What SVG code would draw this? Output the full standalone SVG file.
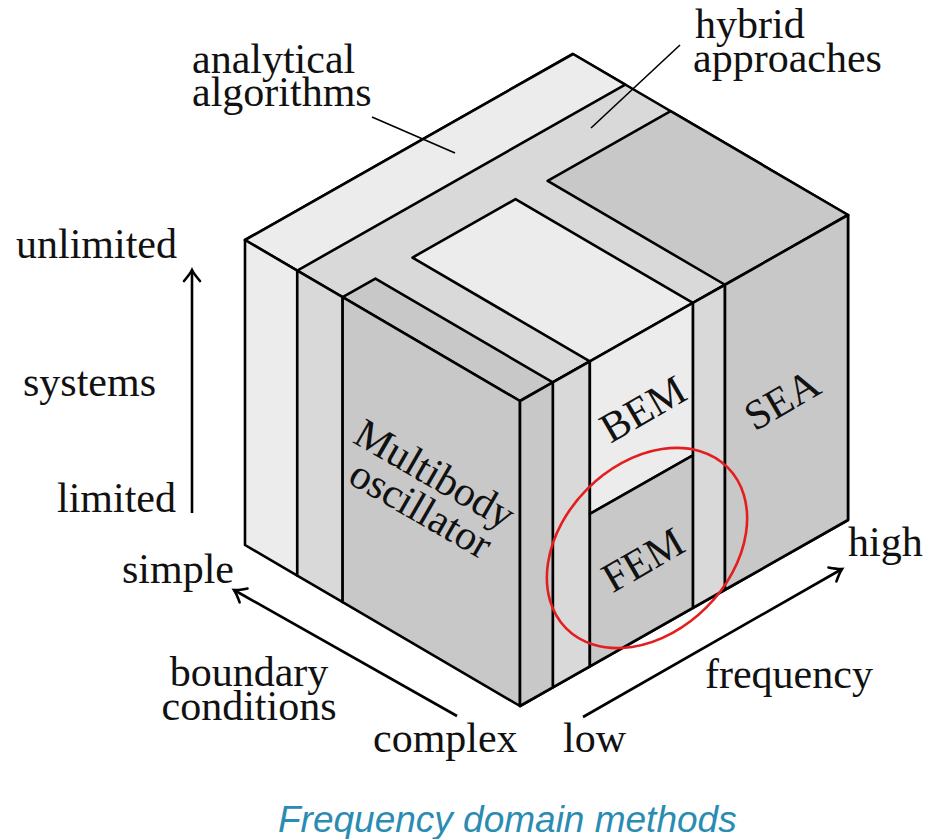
<svg xmlns="http://www.w3.org/2000/svg" width="928" height="839" viewBox="0 0 928 839">
<defs>
<style>
.e{stroke:#000;stroke-width:2.6;stroke-linejoin:round}
.l1{fill:#ececec}
.l2{fill:#d9d9d9}
.l3{fill:#c8c8c8}
.t{font-family:"Liberation Serif","Times New Roman",serif;font-size:42px;fill:#111}
.ax{stroke:#000;stroke-width:2.6;fill:none}
.ld{stroke:#000;stroke-width:1.6;fill:none}
</style>
<marker id="ah" markerUnits="userSpaceOnUse" markerWidth="30" markerHeight="30" viewBox="-15 -15 30 30" refX="0" refY="0" orient="auto">
<path d="M-11,-8 Q-4,-2 0,0 Q-4,2 -11,8" fill="none" stroke="#000" stroke-width="2.6" stroke-linecap="round"/>
</marker>
</defs>
<rect width="928" height="839" fill="#fff"/>

<g id="top-face">
<polygon class="e l2" points="245,240 573,54 848,215 520,401"/>
</g>
<g id="right-face">
<polygon class="e l2" points="520,401 848,215 848,520 520,706"/>
</g>

<g id="analytical-algorithms">
<polygon class="e l1" points="245,240 573,54 625.25,84.59 297.25,270.59"/>
<polygon class="e l1" points="245,240 297.25,270.59 297.25,575.59 245,545"/>
</g>

<g id="hybrid-approaches">
<polygon class="e l2" points="297.25,270.59 342.63,297.16 342.63,602.16 297.25,575.59"/>
<polygon class="e l2" points="552.8,382.4 589.86,361.38 589.86,666.38 552.8,687.4"/>
<polygon class="e l2" points="692.86,302.98 725,284.75 725,589.75 692.86,607.98"/>
</g>

<g id="multibody-oscillator">
<polygon class="e l3" points="342.63,297.16 375.43,278.56 552.8,382.4 520,401"/>
<polygon class="e l3" points="342.63,297.16 520,401 520,706 342.63,602.16"/>
<polygon class="e l3" points="520,401 552.8,382.4 552.8,687.4 520,706"/>
<text class="t" text-anchor="middle" transform="translate(428,486) rotate(30)">Multibody</text>
<text class="t" text-anchor="middle" transform="translate(414,521) rotate(30)">oscillator</text>
</g>

<g id="bem">
<polygon class="e l1" points="412.49,257.54 515.49,199.14 692.86,302.98 589.86,361.38"/>
<polygon class="e l1" points="589.86,361.38 692.86,302.98 692.86,455.48 589.86,513.88"/>
<text class="t" text-anchor="middle" transform="translate(650,421) rotate(-30)">BEM</text>
</g>

<g id="fem">
<polygon class="e l3" points="589.86,513.88 692.86,455.48 692.86,607.98 589.86,666.38"/>
<text class="t" text-anchor="middle" transform="translate(650,572) rotate(-30)">FEM</text>
</g>

<g id="sea">
<polygon class="e l3" points="547.63,180.9 670.63,111.16 848,215 725,284.75"/>
<polygon class="e l3" points="725,284.75 848,215 848,520 725,589.75"/>
<text class="t" text-anchor="middle" transform="translate(789,412) rotate(-30)">SEA</text>
</g>

<g id="highlight">
<ellipse cx="647" cy="548" rx="114" ry="84" transform="rotate(-45 647 548)" fill="none" stroke="#e41e1e" stroke-width="2.6"/>
</g>

<g id="connectors">
<line class="ax" x1="192" y1="513" x2="192" y2="270" marker-end="url(#ah)"/>
<line class="ax" x1="457" y1="716" x2="234" y2="590" marker-end="url(#ah)"/>
<line class="ax" x1="583" y1="717" x2="842" y2="569" marker-end="url(#ah)"/>
<line class="ld" x1="372" y1="117" x2="455" y2="153"/>
<line class="ld" x1="680" y1="45" x2="591" y2="128"/>
</g>

<g id="labels">
<text class="t" x="192" y="73">analytical</text>
<text class="t" x="192" y="106">algorithms</text>
<text class="t" x="695" y="38">hybrid</text>
<text class="t" x="693" y="72">approaches</text>
<text class="t" x="177" y="258" text-anchor="end">unlimited</text>
<text class="t" x="23" y="396">systems</text>
<text class="t" x="176" y="512" text-anchor="end">limited</text>
<text class="t" x="122" y="583">simple</text>
<text class="t" x="249" y="686" text-anchor="middle">boundary</text>
<text class="t" x="249" y="720" text-anchor="middle">conditions</text>
<text class="t" x="373" y="752">complex</text>
<text class="t" x="563" y="752">low</text>
<text class="t" x="705" y="688">frequency</text>
<text class="t" x="848" y="556">high</text>
</g>

<g id="caption">
<text x="278" y="832" font-family="'Liberation Sans',Arial,sans-serif" font-style="italic" font-size="37" fill="#2a8cb2">Frequency domain methods</text>
</g>
</svg>
